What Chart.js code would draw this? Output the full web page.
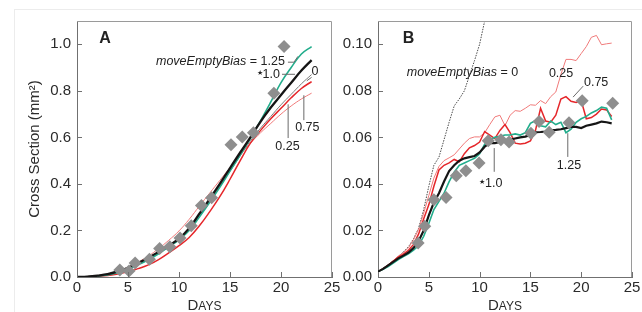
<!DOCTYPE html>
<html>
<head>
<meta charset="utf-8">
<script src="https://cdn.jsdelivr.net/npm/chart.js@4.4.1/dist/chart.umd.min.js"></script>
<style>
  html, body { margin: 0; padding: 0; background: #fff; }
  #wrap { position: relative; width: 642px; height: 312px; overflow: hidden; }
  #edge { position: absolute; left: 14px; top: 9px; right: -2px; bottom: -2px;
          border-left: 1px solid #ececec; border-top: 1px solid #ececec; }
  canvas { position: absolute; top: 0; }
  #panelA { left: 0; }
  #panelB { left: 336px; }
</style>
</head>
<body>
<div id="wrap">
  <div id="edge"></div>
  <canvas id="panelA" width="346" height="312"></canvas>
  <canvas id="panelB" width="306" height="312"></canvas>
</div>
<script>
const FONT = '"Liberation Sans", Arial, sans-serif';

// shared x axis
const xTicks = [0, 5, 10, 15, 20, 25];

// panel A - cross section (mm2) vs days
const daysA = [0, 1, 2, 3, 4, 5, 6, 7, 8, 9, 10, 11, 12, 13, 14, 15, 16, 17, 18, 19, 20, 21, 22, 23];
const biasA000 = [0, 0.002, 0.006, 0.012, 0.024, 0.04, 0.06, 0.083, 0.108, 0.135, 0.165, 0.207, 0.265, 0.325, 0.39, 0.455, 0.52, 0.585, 0.64, 0.69, 0.74, 0.785, 0.83, 0.87];
const biasA025 = [0, 0.002, 0.006, 0.013, 0.025, 0.042, 0.064, 0.09, 0.122, 0.158, 0.198, 0.248, 0.305, 0.36, 0.415, 0.47, 0.525, 0.575, 0.62, 0.66, 0.7, 0.735, 0.765, 0.79];
const biasA075 = [0, 0.001, 0.003, 0.006, 0.013, 0.022, 0.036, 0.052, 0.075, 0.104, 0.135, 0.17, 0.22, 0.28, 0.345, 0.42, 0.5, 0.575, 0.63, 0.68, 0.725, 0.77, 0.81, 0.84];
const biasA100 = [0, 0.002, 0.006, 0.012, 0.024, 0.04, 0.06, 0.083, 0.108, 0.135, 0.165, 0.21, 0.272, 0.335, 0.4, 0.468, 0.535, 0.6, 0.668, 0.728, 0.782, 0.835, 0.887, 0.932];
const biasA125 = [0, 0.001, 0.004, 0.009, 0.018, 0.033, 0.052, 0.074, 0.1, 0.13, 0.16, 0.2, 0.258, 0.32, 0.385, 0.455, 0.525, 0.597, 0.672, 0.752, 0.835, 0.9, 0.958, 0.99];
const obsDaysA = [4.2, 5.1, 5.7, 7.1, 8.1, 9.1, 10.1, 11.2, 12.2, 13.2, 15.1, 16.2, 17.3, 19.3, 20.3];
const obsA = [0.03, 0.026, 0.06, 0.076, 0.122, 0.13, 0.168, 0.22, 0.307, 0.34, 0.568, 0.602, 0.62, 0.79, 0.99];
const yTicksA = [0, 0.2, 0.4, 0.6, 0.8, 1.0];

// panel B
const daysB = [0, 0.5, 1, 1.5, 2, 2.5, 3, 3.5, 4, 4.5, 5, 5.5, 6, 6.5, 7, 7.5, 8, 8.5, 9, 9.5, 10, 10.5, 11, 11.5, 12, 12.5, 13, 13.5, 14, 14.5, 15, 15.5, 16, 16.5, 17, 17.5, 18, 18.5, 19, 19.5, 20, 20.5, 21, 21.5, 22, 22.5, 23];
const biasB000 = [0.0023, 0.0038, 0.0052, 0.007, 0.0088, 0.0108, 0.013, 0.0165, 0.021, 0.029, 0.039, 0.048, 0.0515, 0.059, 0.0665, 0.0735, 0.0765, 0.08, 0.0865, 0.093, 0.1, 0.11, 0.12];
const biasB025 = [0.0023, 0.0037, 0.0053, 0.007, 0.009, 0.0105, 0.0125, 0.016, 0.0205, 0.0275, 0.035, 0.0425, 0.0475, 0.05, 0.0512, 0.0525, 0.055, 0.0575, 0.0595, 0.0602, 0.0602, 0.062, 0.0655, 0.0688, 0.0695, 0.065, 0.0695, 0.0715, 0.0712, 0.0725, 0.074, 0.0738, 0.0758, 0.0745, 0.0775, 0.0795, 0.087, 0.0935, 0.0935, 0.093, 0.096, 0.099, 0.103, 0.1038, 0.0998, 0.1002, 0.1005];
const biasB075 = [0.0023, 0.0035, 0.005, 0.0068, 0.0085, 0.0098, 0.0115, 0.014, 0.0185, 0.025, 0.031, 0.039, 0.046, 0.048, 0.049, 0.0505, 0.0495, 0.053, 0.0555, 0.0565, 0.058, 0.0625, 0.061, 0.0595, 0.063, 0.0655, 0.062, 0.0575, 0.0572, 0.0575, 0.0585, 0.063, 0.0725, 0.067, 0.0665, 0.0695, 0.0765, 0.0775, 0.0755, 0.075, 0.0758, 0.068, 0.0685, 0.07, 0.0722, 0.0718, 0.069];
const biasB100 = [0.0023, 0.0035, 0.005, 0.0065, 0.008, 0.0092, 0.0105, 0.0125, 0.0155, 0.02, 0.0265, 0.032, 0.036, 0.041, 0.0455, 0.048, 0.05, 0.051, 0.0515, 0.052, 0.0535, 0.056, 0.0575, 0.0575, 0.058, 0.0585, 0.059, 0.0595, 0.06, 0.0603, 0.061, 0.0622, 0.0623, 0.0625, 0.063, 0.0632, 0.0635, 0.064, 0.0645, 0.0645, 0.064, 0.065, 0.0655, 0.066, 0.0668, 0.0665, 0.066];
const biasB125 = [0.0023, 0.0033, 0.0045, 0.006, 0.0075, 0.0088, 0.01, 0.0115, 0.0135, 0.0175, 0.023, 0.029, 0.0325, 0.036, 0.041, 0.045, 0.048, 0.049, 0.05, 0.051, 0.053, 0.057, 0.059, 0.06, 0.0605, 0.061, 0.061, 0.0615, 0.061, 0.062, 0.066, 0.0672, 0.065, 0.0645, 0.067, 0.0655, 0.0665, 0.062, 0.0635, 0.0665, 0.068, 0.069, 0.0705, 0.0715, 0.073, 0.0725, 0.0675];
const obsDaysB = [3.95, 4.6, 5.5, 6.7, 7.7, 8.65, 9.95, 10.85, 12.1, 12.9, 15.05, 15.85, 16.85, 18.8, 20.1, 23.1];
const obsB = [0.0146, 0.0218, 0.0332, 0.0342, 0.0435, 0.0457, 0.049, 0.0585, 0.059, 0.058, 0.0618, 0.0668, 0.0622, 0.0663, 0.0757, 0.0747];
const yTicksB = [0, 0.02, 0.04, 0.06, 0.08, 0.10];

function pts(xs, ys) {
    return ys.map((v, i) => ({ x: xs[i], y: v }));
}

function curve(xs, ys, color, width, extra) {
    return Object.assign({
        data: pts(xs, ys),
        showLine: true,
        borderColor: color,
        borderWidth: width,
        pointRadius: 0,
        fill: false
    }, extra || {});
}

function diamonds(xs, ys) {
    return {
        data: pts(xs, ys),
        showLine: false,
        pointStyle: 'rectRot',
        pointRadius: 6.5,
        backgroundColor: '#8e8e8e',
        borderWidth: 0
    };
}

// frame on top/right and inward tick marks
const panelFrame = {
    id: 'panelFrame',
    afterDatasetsDraw(chart) {
        const { ctx, chartArea: a, scales: { x, y } } = chart;
        ctx.save();
        ctx.lineWidth = 1;
        ctx.strokeStyle = '#9a9a9a';
        ctx.beginPath();
        ctx.moveTo(a.left, a.top + 0.5);
        ctx.lineTo(a.right - 0.5, a.top + 0.5);
        ctx.lineTo(a.right - 0.5, a.bottom);
        ctx.stroke();
        ctx.strokeStyle = '#707070';
        ctx.beginPath();
        x.ticks.forEach(t => {
            const px = Math.round(x.getPixelForValue(t.value)) + 0.5;
            ctx.moveTo(px, a.bottom);
            ctx.lineTo(px, a.bottom - 5);
        });
        y.ticks.forEach(t => {
            const py = Math.round(y.getPixelForValue(t.value)) + 0.5;
            ctx.moveTo(a.left, py);
            ctx.lineTo(a.left + 5, py);
        });
        ctx.stroke();
        ctx.restore();
    }
};

// annotations positioned in data units
const panelNotes = {
    id: 'panelNotes',
    afterDatasetsDraw(chart, args, opts) {
        const { ctx, scales: { x, y } } = chart;
        ctx.save();
        ctx.strokeStyle = '#6a6a6a';
        ctx.lineWidth = 1;
        (opts.leaders || []).forEach(line => {
            ctx.beginPath();
            line.forEach((p, i) => {
                const px = x.getPixelForValue(p[0]);
                const py = y.getPixelForValue(p[1]);
                if (i) ctx.lineTo(px, py); else ctx.moveTo(px, py);
            });
            ctx.stroke();
        });
        ctx.fillStyle = '#222';
        ctx.textBaseline = 'middle';
        ctx.textAlign = 'left';
        (opts.notes || []).forEach(n => {
            const fonts = n.parts.map(p => (p.style || '') + ' ' + (p.size || 12.5) + 'px ' + FONT);
            const widths = n.parts.map((p, i) => { ctx.font = fonts[i]; return ctx.measureText(p.text).width; });
            const total = widths.reduce((s, w) => s + w, 0);
            let px = x.getPixelForValue(n.x);
            if (n.align === 'right') px -= total;
            if (n.align === 'center') px -= total / 2;
            const py = y.getPixelForValue(n.y);
            n.parts.forEach((p, i) => {
                ctx.font = fonts[i];
                ctx.fillText(p.text, px, py + (p.dy || 0));
                px += widths[i];
            });
        });
        ctx.restore();
    }
};

// small caps "DAYS" under each x axis
const daysTitle = {
    id: 'daysTitle',
    afterDraw(chart) {
        const { ctx, chartArea: a } = chart;
        ctx.save();
        ctx.fillStyle = '#2b2b2b';
        ctx.textBaseline = 'alphabetic';
        ctx.textAlign = 'left';
        ctx.font = '15px ' + FONT;
        const w1 = ctx.measureText('D').width;
        ctx.font = '12px ' + FONT;
        const w2 = ctx.measureText('AYS').width;
        let px = (a.left + a.right) / 2 - (w1 + w2) / 2;
        ctx.font = '15px ' + FONT;
        ctx.fillText('D', px, 309.5);
        ctx.font = '12px ' + FONT;
        ctx.fillText('AYS', px + w1, 309.5);
        ctx.restore();
    }
};

function panelOptions(yMax, yTicks, decimals, yWidth, rightPad, yTitle, notes) {
    const tickFont = { family: FONT, size: 15 };
    return {
        responsive: false,
        animation: false,
        layout: { padding: { top: 21, right: rightPad, left: 0, bottom: 0 } },
        plugins: {
            legend: { display: false },
            tooltip: { enabled: false },
            panelNotes: notes
        },
        scales: {
            x: {
                type: 'linear',
                min: 0,
                max: 25,
                grid: { display: false, drawTicks: false },
                border: { display: true, color: '#707070' },
                ticks: { font: tickFont, color: '#2b2b2b', padding: 2, autoSkip: false, maxRotation: 0,
                         callback: v => String(v) },
                afterBuildTicks: s => { s.ticks = xTicks.map(v => ({ value: v })); },
                afterFit: s => { s.height = 35; s.paddingLeft = 0; s.paddingRight = 0; }
            },
            y: {
                type: 'linear',
                min: 0,
                max: yMax,
                grid: { display: false, drawTicks: false },
                border: { display: true, color: '#707070' },
                ticks: { font: tickFont, color: '#2b2b2b', padding: 6, autoSkip: false,
                         callback: v => v.toFixed(decimals) },
                title: yTitle ? {
                    display: true,
                    text: yTitle,
                    color: '#2b2b2b',
                    font: { family: FONT, size: 15 },
                    padding: { top: 26, bottom: 0 }
                } : { display: false },
                afterBuildTicks: s => { s.ticks = yTicks.map(v => ({ value: v })); },
                afterFit: s => { s.width = yWidth; s.paddingTop = 0; s.paddingBottom = 0; }
            }
        }
    };
}

document.addEventListener('DOMContentLoaded', function() {
    let chartA = null;
    let chartB = null;
    const star = { text: '\u2605', size: 7, dy: -1 };

    function createPanelA() {
        const canvas = document.getElementById('panelA');
        if (!canvas) return;
        if (chartA) chartA.destroy();
        const notes = {
            notes: [
                { x: 2.18, y: 1.026, align: 'left', parts: [{ text: 'A', style: 'bold', size: 16 }] },
                { x: 20.38, y: 0.927, align: 'right', parts: [{ text: 'moveEmptyBias', style: 'italic' }, { text: ' = 1.25' }] },
                { x: 19.9, y: 0.871, align: 'right', parts: [star, { text: '1.0' }] },
                { x: 23.32, y: 0.884, align: 'center', parts: [{ text: '0' }] },
                { x: 22.58, y: 0.642, align: 'center', parts: [{ text: '0.75' }] },
                { x: 20.63, y: 0.562, align: 'center', parts: [{ text: '0.25' }] }
            ],
            leaders: [
                [[20.68, 0.923], [21.27, 0.923], [21.66, 0.948]],
                [[20.1, 0.871], [21.37, 0.871]],
                [[23.0, 0.858], [22.53, 0.843]],
                [[22.24, 0.674], [22.24, 0.781]],
                [[20.7, 0.597], [20.7, 0.742]]
            ]
        };
        chartA = new Chart(canvas.getContext('2d'), {
            type: 'scatter',
            data: {
                datasets: [
                    diamonds(obsDaysA, obsA),
                    curve(daysA, biasA100, '#151515', 2.3, { tension: 0.4 }),
                    curve(daysA, biasA125, '#22ad8c', 1.6, { tension: 0.4 }),
                    curve(daysA, biasA000, '#7a7a7a', 1, { tension: 0.4 }),
                    curve(daysA, biasA075, '#e5262a', 1.5, { tension: 0.4 }),
                    curve(daysA, biasA025, '#f07a7a', 1, { tension: 0.4 })
                ]
            },
            options: panelOptions(1.1, yTicksA, 1, 77, 14, 'Cross Section (mm\u00b2)', notes),
            plugins: [panelFrame, panelNotes, daysTitle]
        });
    }

    function createPanelB() {
        const canvas = document.getElementById('panelB');
        if (!canvas) return;
        if (chartB) chartB.destroy();
        const notes = {
            notes: [
                { x: 2.44, y: 0.1026, align: 'left', parts: [{ text: 'B', style: 'bold', size: 16 }] },
                { x: 2.83, y: 0.0878, align: 'left', parts: [{ text: 'moveEmptyBias', style: 'italic' }, { text: ' = 0' }] },
                { x: 18.02, y: 0.0876, align: 'center', parts: [{ text: '0.25' }] },
                { x: 21.47, y: 0.0837, align: 'center', parts: [{ text: '0.75' }] },
                { x: 11.1, y: 0.0403, align: 'center', parts: [star, { text: '1.0' }] },
                { x: 18.8, y: 0.0481, align: 'center', parts: [{ text: '1.25' }] }
            ],
            leaders: [
                [[20.19, 0.082], [19.2, 0.0773]],
                [[11.44, 0.0452], [11.44, 0.0554]],
                [[18.68, 0.0516], [18.68, 0.0618]]
            ]
        };
        chartB = new Chart(canvas.getContext('2d'), {
            type: 'scatter',
            data: {
                datasets: [
                    diamonds(obsDaysB, obsB),
                    curve(daysB, biasB100, '#151515', 2.2),
                    curve(daysB, biasB125, '#22ad8c', 1.6),
                    curve(daysB, biasB075, '#e5262a', 1.5),
                    curve(daysB, biasB025, '#f07a7a', 1),
                    curve(daysB, biasB000, '#4a4a4a', 1, { borderDash: [1.5, 1.2] })
                ]
            },
            options: panelOptions(0.11, yTicksB, 2, 42, 10, null, notes),
            plugins: [panelFrame, panelNotes, daysTitle]
        });
    }

    createPanelA();
    createPanelB();
});
</script>
</body>
</html>
